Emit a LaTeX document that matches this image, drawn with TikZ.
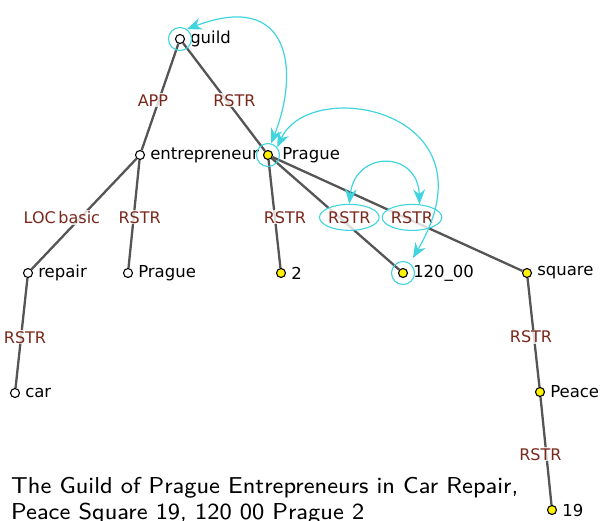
\documentclass[tikz,border=0pt]{standalone}
\usepackage{fontspec}
\newfontfamily\dejavu{DejaVu Sans}
\newfontfamily\capfont{lmsans8-regular.otf}
\usetikzlibrary{shapes.geometric,arrows.meta}
\definecolor{linkgray}{RGB}{85,85,85}
\definecolor{funccol}{RGB}{122,40,28}
\definecolor{corefcol}{RGB}{64,212,222}

\begin{document}
\begin{tikzpicture}[x=1pt,y=-1pt,
  every label/.style={font=\dejavu\fontsize{16.5}{19}\selectfont,inner sep=5pt},
  tok/.style={circle,draw,fill=white,line width=1.1pt,inner sep=0pt,minimum size=9pt,label distance=0pt},
  gtok/.style={tok,fill=yellow},
  edge/.style={draw=linkgray,line width=2.3pt},
  func/.style={font=\dejavu\fontsize{16}{19}\selectfont,text=funccol,fill=white,fill opacity=.8,text opacity=1,inner sep=1pt},
  oval/.style={ellipse,draw=corefcol,draw opacity=1,line width=1.1pt,inner sep=0pt,minimum height=26pt},
  ring/.style={circle,draw=corefcol,line width=1.1pt,minimum size=23pt,inner sep=0pt},
  coref/.style={corefcol,line width=1.2pt,{Stealth[length=15pt,width=12pt,inset=5pt]}-{Stealth[length=15pt,width=12pt,inset=5pt]}}]
  \useasboundingbox (0,0) rectangle (600,520);

  \node[tok,label=right:guild] (guild) at (180,39) {};
  \node[tok,label=right:entrepreneur] (entre) at (140,155) {};
  \node[gtok,label={[label distance=4pt]right:Prague}] (prague) at (268,155) {};
  \node[tok,label=right:repair] (repair) at (28,273) {};
  \node[tok,label=right:Prague] (praguew) at (128,273) {};
  \node[gtok,label=right:2] (two) at (281,273) {};
  \node[gtok,label=right:120\_00] (postal) at (403,273) {};
  \node[gtok,label=right:square] (square) at (527,273) {};
  \node[tok,label=right:car] (car) at (15,393) {};
  \node[gtok,label=right:Peace] (peace) at (540,392) {};
  \node[gtok,label=right:19] (nineteen) at (552,510) {};

  \draw[edge] (guild) -- (entre) node[func,pos=.53,xshift=-6] {APP};
  \draw[edge] (guild) -- (prague) node[func,pos=.53,xshift=8] {RSTR};
  \draw[edge] (entre) -- (repair) node[func,pos=.53,xshift=-19] {LOC\,basic};
  \draw[edge] (entre) -- (praguew) node[func,pos=.53,xshift=6] {RSTR};
  \draw[edge] (prague) -- (two) node[func,pos=.53,xshift=10] {RSTR};
  \draw[edge] (prague) -- (postal) node[func,oval,pos=.53,xshift=10] (rpostal) {RSTR};
  \draw[edge] (prague) -- (square) node[func,oval,pos=.53,xshift=7] (rsquare) {RSTR};
  \draw[edge] (repair) -- (car) node[func,pos=.54,xshift=4] {RSTR};
  \draw[edge] (square) -- (peace) node[func,pos=.54,xshift=-3] {RSTR};
  \draw[edge] (peace) -- (nineteen) node[func,pos=.53,xshift=-6] {RSTR};

  \node[ring] (gring) at (guild) {};
  \node[ring] (pring) at (prague) {};
  \node[ring] (cring) at (postal) {};
  \draw[coref] (gring.55) .. controls (290,-10) and (300,70) .. (pring.75);
  \draw[coref,shorten >=6pt] (pring.40) .. controls (310,75) and (500,110) .. (cring.55);
  \draw[coref] (rpostal.north) .. controls (355,150) and (418,150) .. (rsquare.60);

  \node[anchor=north west,inner sep=0pt,align=left,font=\capfont\fontsize{23}{26.5}\selectfont] (caption) at (11,477)
    {The Guild of Prague Entrepreneurs in Car Repair,\\Peace Square 19, 120 00 Prague 2};
\end{tikzpicture}
\end{document}
